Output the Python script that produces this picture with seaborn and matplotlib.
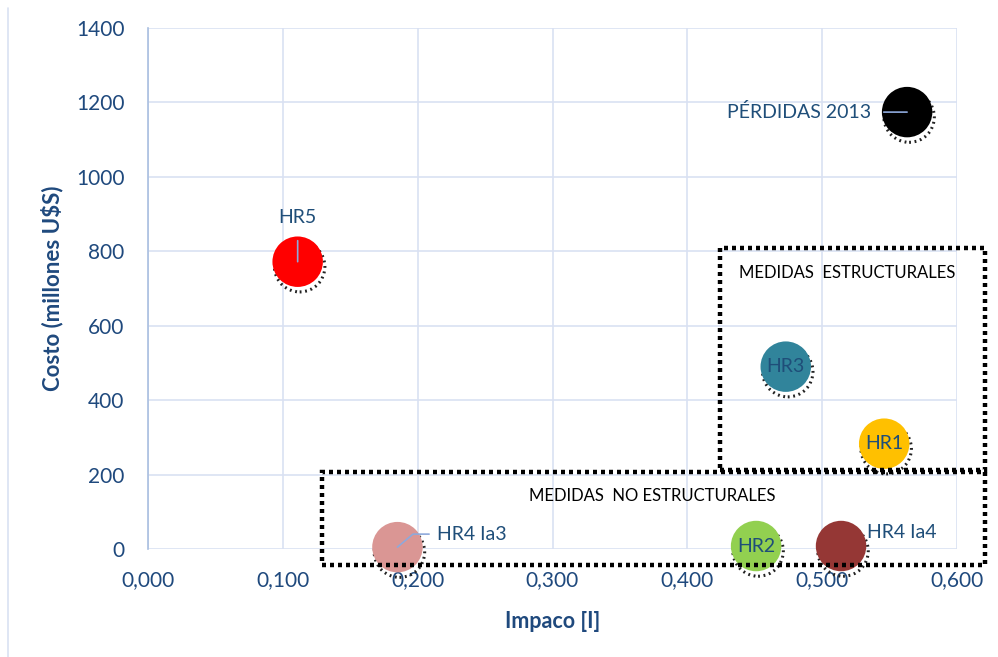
import matplotlib
matplotlib.use("Agg")
import matplotlib.pyplot as plt
import matplotlib.transforms as mtransforms
from matplotlib.patches import Rectangle
import seaborn as sns
import pandas as pd

names = ["HR5", "PÉRDIDAS 2013", "HR3", "HR1", "HR4 Ia3", "HR2", "HR4 Ia4"]
impacto = [0.111, 0.563, 0.473, 0.546, 0.185, 0.451, 0.514]
costo = [772, 1174, 490, 283, 5, 8, 8]
colors = ["#FF0000", "#000000", "#31849B", "#FFC000", "#DA9694", "#92D050", "#953735"]
x_ticks = [0.0, 0.1, 0.2, 0.3, 0.4, 0.5, 0.6]
x_ticklabels = ["0,000", "0,100", "0,200", "0,300", "0,400", "0,500", "0,600"]
y_ticks = [0, 200, 400, 600, 800, 1000, 1200, 1400]

df = pd.DataFrame({"name": names, "x": impacto, "y": costo})

sns.set_theme(style="white")
plt.rcParams["font.family"] = ["Lato", "DejaVu Sans"]

fig = plt.figure(figsize=(9.98, 6.57), dpi=100)
ax = fig.add_axes([148/998, 1-549/657, 809/998, 521/657])

txtc = "#1F497D"
grid_c = "#D9E1F2"
S = 1320

# shadows
shadow_tr = mtransforms.offset_copy(ax.transData, fig=fig, x=2, y=-5, units="dots")
ax.scatter(df["x"], df["y"], s=S, facecolors="none", edgecolors="#222222",
           linewidths=2.2, linestyle=(0, (0.6, 1.2)), transform=shadow_tr, zorder=2, clip_on=False)

sns.scatterplot(data=df, x="x", y="y", hue="name", palette=dict(zip(names, colors)),
                s=S, linewidth=0, legend=False, ax=ax, zorder=3, clip_on=False)

ax.set_xlim(0, 0.6)
ax.set_ylim(0, 1400)
ax.set_xticks(x_ticks)
ax.set_xticklabels(x_ticklabels)
ax.set_yticks(y_ticks)
ax.grid(True, color=grid_c, linewidth=1.2)
ax.set_axisbelow(True)
for s in ["top", "right", "bottom"]:
    ax.spines[s].set_visible(False)
ax.spines["left"].set_color("#A9BFE0")
ax.spines["left"].set_linewidth(1.2)
ax.tick_params(axis="both", colors=txtc, labelsize=15, length=0)
ax.tick_params(axis="x", pad=15)
ax.tick_params(axis="y", pad=17)
ax.set_xlabel("Impaco [I]", color=txtc, fontsize=15.5, fontweight="bold", labelpad=15)
ax.set_ylabel("Costo (millones U$S)", color=txtc, fontsize=16, fontweight="bold", labelpad=9)

lblc = "#1F4E79"
leader = "#8EA9DB"
fs = 14
# labels
ax.annotate("HR5", xy=(impacto[0], costo[0]), xytext=(impacto[0], costo[0] + 118),
            ha="center", va="center", color=lblc, fontsize=fs,
            arrowprops=dict(arrowstyle="-", color=leader, lw=1.2, shrinkA=8, shrinkB=0), zorder=5)
ax.annotate("PÉRDIDAS 2013", xy=(impacto[1], costo[1]), xytext=(impacto[1] - 0.027, costo[1]),
            ha="right", va="center", color=lblc, fontsize=fs,
            arrowprops=dict(arrowstyle="-", color=leader, lw=1.2, shrinkA=7, shrinkB=0), zorder=5)
ax.annotate("HR4 Ia3", xy=(impacto[4], costo[4]), xytext=(impacto[4] + 0.029, costo[4] + 35),
            ha="left", va="center", color=lblc, fontsize=fs,
            arrowprops=dict(arrowstyle="-", color=leader, lw=1.2, shrinkA=3, shrinkB=0,
                            connectionstyle="angle,angleA=0,angleB=40,rad=0"), zorder=5)
for i in [2, 3, 5]:
    ax.text(impacto[i], costo[i], names[i], ha="center", va="center", color=lblc, fontsize=fs, zorder=5)
ax.text(impacto[6] + 0.019, costo[6] + 35, names[6], ha="left", va="center", color=lblc, fontsize=fs, zorder=5)

# dotted boxes
box_kw = dict(fill=False, edgecolor="black", linewidth=3.2, linestyle=(0, (0.9, 0.9)),
              clip_on=False, zorder=4)
ax.add_patch(Rectangle((0.424, 212), 0.6208 - 0.424, 809 - 212, **box_kw))
ax.add_patch(Rectangle((0.129, -43), 0.6208 - 0.129, 207 + 43, **box_kw))
ax.text(0.5185, 742, "MEDIDAS  ESTRUCTURALES", ha="center", va="center", color="black", fontsize=12)
ax.text(0.374, 142, "MEDIDAS  NO ESTRUCTURALES", ha="center", va="center", color="black", fontsize=12)

# chart area border hint
fig.add_artist(plt.Line2D([8/998, 8/998], [0, 1 - 8/657], color="#D9E1F2", lw=1.2))

fig.savefig("out.png", dpi=100)
